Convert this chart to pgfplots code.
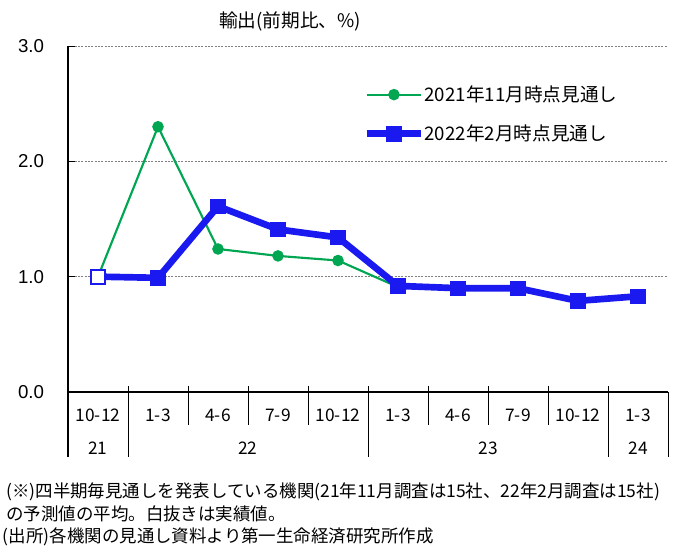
\documentclass[border=0pt]{standalone}
\usepackage{fontspec}
\setmainfont{Noto Sans CJK JP}
\newfontfamily\arialf{Liberation Sans}
\usepackage{pgfplots}
\pgfplotsset{compat=1.18}
\definecolor{lgreen}{RGB}{0,166,81}
\definecolor{lblue}{RGB}{26,26,240}
\begin{document}
\begin{tikzpicture}
\path[use as bounding box] (0,0) rectangle (522pt,417pt);
\begin{axis}[
  at={(51pt,123pt)}, anchor=south west,
  scale only axis, width=450pt, height=259.5pt,
  xmin=-0.5, xmax=9.5, ymin=0, ymax=3,
  axis lines*=left,
  axis line style={black, line width=0.8pt},
  xtick={0,...,9},
  xticklabels={10-12,1-3,4-6,7-9,10-12,1-3,4-6,7-9,10-12,1-3},
  xtick style={draw=none},
  xticklabel style={font=\fontsize{13pt}{15pt}\selectfont, anchor=center, yshift=-17.5pt},
  ytick={0,1,2,3},
  /pgf/number format/assume math mode=true,
  yticklabel={\pgfmathprintnumber[fixed,fixed zerofill,precision=1]{\tick}},
  yticklabel style={font=\arialf\fontsize{14pt}{16pt}\selectfont, xshift=-14.5pt},
  ytick style={black, line width=0.6pt},
  tick align=inside, major tick length=5pt,
  ymajorgrids, grid style={gray, dash pattern=on 1.5pt off 1pt, line width=0.5pt},
  clip=false,
  legend style={at={(0.4917,0.803)}, anchor=west, draw=none, fill=none, inner sep=0pt,
    font=\fontsize{14pt}{16pt}\selectfont, row sep=12pt, cells={anchor=west},
    /tikz/every odd column/.append style={column sep=-2pt}},
  legend image code/.code={\draw[mark repeat=2,mark phase=2,#1] plot coordinates {(0pt,0pt) (20.5pt,0pt) (41pt,0pt)};},
]
\addplot[lgreen, line width=1.6pt, mark=*, mark size=3.5pt] coordinates {(0,1.0)(1,2.30)(2,1.24)(3,1.18)(4,1.14)(5,0.91)(6,0.90)(7,0.90)(8,0.78)(9,0.83)};
\addlegendentry{2021年11月時点見通し}
\addplot[lblue, line width=5pt, mark=square*, mark size=5.5pt, mark options={line width=0.5pt}] coordinates {(0,1.0)(1,0.99)(2,1.61)(3,1.41)(4,1.34)(5,0.92)(6,0.90)(7,0.90)(8,0.79)(9,0.83)};
\addlegendentry{2022年2月時点見通し}
\addplot[forget plot, only marks, mark=square*, mark size=5.2pt, mark options={fill=white, draw=lblue, line width=1.2pt}] coordinates {(0,1.0)};
% table separators
\pgfplotsinvokeforeach{1.5,2.5,3.5,5.5,6.5,7.5}{\draw[black, line width=0.6pt] ([yshift=4.5pt]axis cs:#1,0) -- ([yshift=-24.5pt]axis cs:#1,0);}
\pgfplotsinvokeforeach{0.5,4.5,8.5}{\draw[black, line width=0.6pt] ([yshift=4.5pt]axis cs:#1,0) -- ([yshift=-49pt]axis cs:#1,0);}
\draw[black, line width=0.8pt] (axis cs:-0.5,0) -- ([yshift=-49pt]axis cs:-0.5,0);
\draw[black, line width=0.6pt] (axis cs:9.5,0) -- ([yshift=-49pt]axis cs:9.5,0);
\node[font=\fontsize{13pt}{15pt}\selectfont] at ([yshift=-42pt]axis cs:0,0) {21};
\node[font=\fontsize{13pt}{15pt}\selectfont] at ([yshift=-42pt]axis cs:2.5,0) {22};
\node[font=\fontsize{13pt}{15pt}\selectfont] at ([yshift=-42pt]axis cs:6.5,0) {23};
\node[font=\fontsize{13pt}{15pt}\selectfont] at ([yshift=-42pt]axis cs:9,0) {24};
\end{axis}
\node[font=\fontsize{14pt}{16pt}\selectfont] at (217.5pt,401pt) {輸出(前期比、\%)};
\node[anchor=west, inner sep=0pt, font=\fontsize{13.1pt}{15pt}\selectfont] at (4.5pt,48pt) {(※)四半期毎見通しを発表している機関(21年11月調査は15社、22年2月調査は15社)};
\node[anchor=west, inner sep=0pt, font=\fontsize{13.1pt}{15pt}\selectfont] at (4.5pt,31.5pt) {の予測値の平均。白抜きは実績値。};
\node[anchor=west, inner sep=0pt, font=\fontsize{13.1pt}{15pt}\selectfont] at (2pt,14.25pt) {(出所)各機関の見通し資料より第一生命経済研究所作成};
\end{tikzpicture}
\end{document}
